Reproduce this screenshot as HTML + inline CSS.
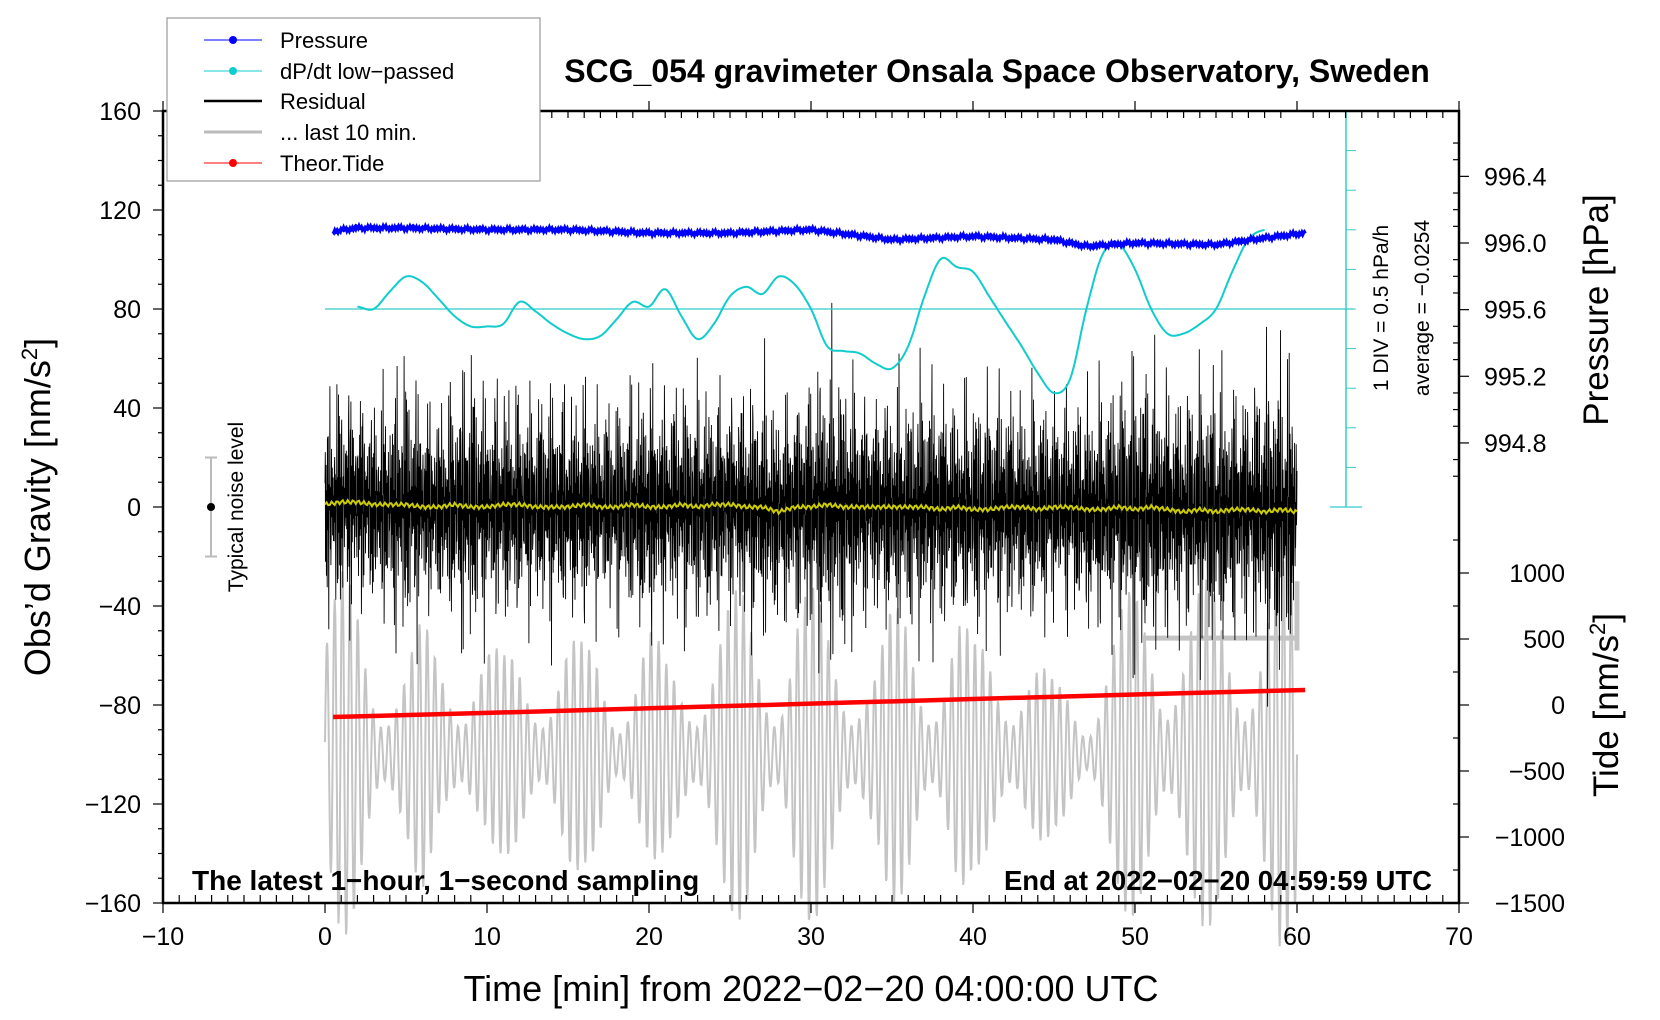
<!DOCTYPE html>
<html><head><meta charset="utf-8"><style>
html,body{margin:0;padding:0;background:#fff;}
svg{display:block;font-family:"Liberation Sans",sans-serif;}
</style></head><body>
<svg id="chart" width="1660" height="1020" viewBox="0 0 1660 1020" xmlns="http://www.w3.org/2000/svg">
<g id="marks"></g>
<g id="axes"></g>
<g id="legend">
  <rect x="167" y="18" width="373" height="163" fill="#fff" stroke="#999" stroke-width="1.2"/>
  <g><line x1="204" y1="40" x2="262" y2="40" stroke="#00f" stroke-width="1"/><circle cx="233" cy="40" r="4" fill="#00f"/><text x="280" y="48" font-size="22">Pressure</text></g>
  <g><line x1="204" y1="71" x2="262" y2="71" stroke="#1cc" stroke-width="1"/><circle cx="233" cy="71" r="4" fill="#1cc"/><text x="280" y="79" font-size="22">dP/dt low−passed</text></g>
  <g><line x1="204" y1="101" x2="262" y2="101" stroke="#000" stroke-width="2.5"/><text x="280" y="109" font-size="22">Residual</text></g>
  <g><line x1="204" y1="132" x2="262" y2="132" stroke="#bbb" stroke-width="3"/><text x="280" y="140" font-size="22">... last 10 min.</text></g>
  <g><line x1="204" y1="163" x2="262" y2="163" stroke="#f00" stroke-width="1"/><circle cx="233" cy="163" r="4" fill="#f00"/><text x="280" y="171" font-size="22">Theor.Tide</text></g>
</g>
<text x="997" y="82" font-size="32" font-weight="bold" text-anchor="middle">SCG_054 gravimeter Onsala Space Observatory, Sweden</text>
<text x="192" y="890" font-size="28" font-weight="bold">The latest 1−hour, 1−second sampling</text>
<text x="1432" y="890" font-size="27.5" font-weight="bold" text-anchor="end">End at 2022−02−20 04:59:59 UTC</text>
<text transform="translate(50,507) rotate(-90)" font-size="36" text-anchor="middle">Obs’d Gravity [nm/s<tspan font-size="22" dy="-13">2</tspan><tspan dy="13">]</tspan></text>
<text transform="translate(1608,310) rotate(-90)" font-size="35" text-anchor="middle">Pressure [hPa]</text>
<text transform="translate(1618,705) rotate(-90)" font-size="35" text-anchor="middle">Tide [nm/s<tspan font-size="22" dy="-13">2</tspan><tspan dy="13">]</tspan></text>
<text x="811" y="1001" font-size="36" text-anchor="middle">Time [min] from 2022−02−20 04:00:00 UTC</text>
<text transform="translate(1388,308) rotate(-90)" font-size="21" text-anchor="middle">1 DIV = 0.5 hPa/h</text>
<text transform="translate(1429,308) rotate(-90)" font-size="21" text-anchor="middle">average = −0.0254</text>
<text transform="translate(243,507) rotate(-90)" font-size="21" text-anchor="middle">Typical noise level</text>
</svg>
<script>
// ---- data ----
const xTicks=[-10,0,10,20,30,40,50,60,70];
const gTicks=[-160,-120,-80,-40,0,40,80,120,160];
const pTicks=[994.8,995.2,995.6,996.0,996.4];
const tTicks=[-1500,-1000,-500,0,500,1000];
const presT=[0.5,2,5,10,15,20,25,30,35,40,45,47,50,55,58,60.5];
const presV=[996.07,996.09,996.09,996.08,996.08,996.06,996.06,996.08,996.02,996.04,996.02,995.98,996.0,995.99,996.03,996.06];
const dpT=[2,3,4,5,6,7,8,9,10,11,12,13,14,15,16,17,18,19,20,21,22,23,24,25,26,27,28,29,30,31,32,33,34,35,36,37,38,39,40,41,42,43,44,45,46,47,48,49,50,51,52,53,54,55,56,57,58];
const dpV=[0.03,0,0.22,0.41,0.34,0.13,-0.09,-0.22,-0.22,-0.19,0.09,-0.03,-0.19,-0.31,-0.38,-0.34,-0.13,0.09,0.03,0.25,-0.09,-0.38,-0.19,0.16,0.28,0.19,0.41,0.31,0,-0.47,-0.53,-0.56,-0.69,-0.75,-0.47,0.16,0.63,0.53,0.47,0.16,-0.16,-0.47,-0.81,-1.06,-0.88,0,0.69,0.81,0.5,0,-0.31,-0.31,-0.19,0,0.47,0.88,1.0];
const dpAvg=-0.0254;
const tideT=[0.5,10,20,30,40,50,60.5];
const tideV=[-91,-60,-25,10,45,80,114];
// residual envelope (nm/s^2) per minute 0..60
const resEnv=[40,50,45,42,48,58,45,42,50,60,45,50,48,45,50,45,50,42,45,48,55,45,50,48,50,45,48,52,45,48,55,62,58,48,45,50,48,55,52,45,50,48,50,45,50,42,45,48,52,50,62,60,52,48,55,58,52,50,60,65,55];
const resMean=[1,2,2,1,1,1,0,0,1,0,0,1,1,0,0,0,1,0,0,1,0,0,1,0,1,1,0,0,-2,0,0,1,0,0,0,0,0,0,-1,0,-1,-1,0,0,-1,0,0,-1,-1,0,-1,0,-1,-2,-1,-2,-1,-1,-2,-1,-2];
// gray "last 10 min" envelope and centre (nm/s^2)
const grayEnv=[60,75,70,55,50,45,55,40,50,60,45,40,50,55,45,50,45,55,40,45,50,40,45,55,60,65,70,60,55,75,70,60,55,60,45,60,65,55,60,65,45,55,60,50,40,30,35,30,50,60,70,75,70,65,70,72,70,65,75,80,70];
const grayMid=[-95,-100,-100,-100,-100,-100,-100,-95,-100,-100,-95,-100,-100,-100,-100,-100,-100,-100,-100,-100,-95,-100,-100,-100,-100,-100,-100,-100,-100,-100,-100,-100,-100,-100,-100,-100,-100,-100,-100,-100,-100,-100,-100,-100,-100,-100,-100,-100,-100,-100,-100,-100,-100,-100,-100,-100,-100,-100,-100,-100,-100];

// ---- axes functions ----
const X=t=>163+(t+10)*16.2;
const Y=g=>111+(160-g)*2.475;
const YP=p=>243-(p-996)*166.6;
const YT=v=>705-v*0.132;
const NS='http://www.w3.org/2000/svg';
const marks=document.getElementById('marks'),axes=document.getElementById('axes');
function mk(tag,attrs,parent){const e=document.createElementNS(NS,tag);for(const k in attrs)e.setAttribute(k,attrs[k]);parent.appendChild(e);return e;}
function interp(ts,vs,t){if(t<=ts[0])return vs[0];for(let i=1;i<ts.length;i++){if(t<=ts[i]){const f=(t-ts[i-1])/(ts[i]-ts[i-1]);return vs[i-1]+f*(vs[i]-vs[i-1]);}}return vs[vs.length-1];}
function spline(ts,vs,t){if(t<=ts[0])return vs[0];const n=ts.length;if(t>=ts[n-1])return vs[n-1];let i=1;while(ts[i]<t)i++;
 const p0=vs[Math.max(i-2,0)],p1=vs[i-1],p2=vs[i],p3=vs[Math.min(i+1,n-1)];const u=(t-ts[i-1])/(ts[i]-ts[i-1]);
 return 0.5*((2*p1)+(-p0+p2)*u+(2*p0-5*p1+4*p2-p3)*u*u+(-p0+3*p1-3*p2+p3)*u*u*u);}
const idx=resEnv.map((_,k)=>k);

// gray line
let gp=[];
for(let i=0;i<=1800;i++){const t=i/30;const env=interp(idx,grayEnv,t);const mid=interp(idx,grayMid,t);
 const v=mid+env*Math.sin(t*2*Math.PI*2.1)*(0.6+0.4*Math.sin(t*1.3));gp.push(X(t).toFixed(1)+','+Y(v).toFixed(1));}
const gray=mk('polyline',{points:gp.join(' '),fill:'none',stroke:'#c4c4c4','stroke-width':2},marks);


const gb=mk('path',{d:`M${X(50.5)},${Y(-53)}H${X(60)}M${X(60)},${Y(-30)}V${Y(-58)}`,stroke:'#c4c4c4','stroke-width':5,fill:'none'},marks);



// residual
let rp=[];
for(let i=0;i<=3600;i++){const t=i/60;const env=interp(idx,resEnv,t);
 const w=Math.sin(i*2.17)*0.6+Math.sin(i*0.73+1)*0.3+Math.sin(i*5.3)*0.25;
 rp.push(X(t).toFixed(1)+','+Y(interp(idx,resMean,t)+env*w*(0.85+0.35*Math.sin(t*9.1))).toFixed(1));}
const res=mk('polyline',{points:rp.join(' '),fill:'none',stroke:'#000','stroke-width':0.9},marks);


let yp=[];
for(let i=0;i<=600;i++){const t=i/10;yp.push(X(t).toFixed(1)+','+Y(interp(idx,resMean,t)+0.8*Math.sin(i*1.9)).toFixed(1));}
const yl=mk('polyline',{points:yp.join(' '),fill:'none',stroke:'#cc0','stroke-width':2},marks);



// red tide
const tl=mk('polyline',{points:tideT.map((t,i)=>X(t)+','+YT(tideV[i])).join(' '),fill:'none',stroke:'#f00','stroke-width':4.5},marks);



// cyan baseline and dp/dt
const cb=mk('line',{x1:X(0),x2:X(63.5),y1:Y(80),y2:Y(80),stroke:'#3cc','stroke-width':1.3},marks);


let cp=[];
for(let i=0;i<=560;i++){const t=2+i/10;cp.push(X(t).toFixed(1)+','+Y(80+spline(dpT,dpV,t)*32).toFixed(1));}
const cl=mk('polyline',{points:cp.join(' '),fill:'none',stroke:'#1cc','stroke-width':2},marks);


// scale bar
const sb=mk('g',{},marks);


mk('line',{x1:1346,x2:1346,y1:Y(160),y2:Y(0),stroke:'#3cc','stroke-width':1.5},sb);
for(let k=0;k<=10;k++){const y=Y(160-16*k);mk('line',{x1:1346,x2:(k==0||k==10)?1362:1356,y1:y,y2:y,stroke:'#3cc','stroke-width':1},sb);if(k==0||k==10)mk('line',{x1:1330,x2:1362,y1:y,y2:y,stroke:'#3cc','stroke-width':1.2},sb);}

// pressure
let pp=[];
for(let i=0;i<=1200;i++){const t=0.5+i/20;pp.push(X(t).toFixed(1)+','+(YP(interp(presT,presV,t))+1.2*Math.sin(i*2.3)+0.8*Math.sin(i*0.37)).toFixed(1));}
const pl=mk('polyline',{points:pp.join(' '),fill:'none',stroke:'#00f','stroke-width':3.5},marks);



// noise bar
const nb=mk('g',{},marks);


mk('path',{d:`M211,${Y(20)}V${Y(-20)}M205,${Y(20)}H217M205,${Y(-20)}H217`,stroke:'#bbb','stroke-width':2,fill:'none'},nb);
mk('circle',{cx:211,cy:Y(0),r:4,fill:'#000'},nb);

// frame
const fr=mk('rect',{x:163,y:111,width:1296,height:792,fill:'none',stroke:'#000','stroke-width':2.5},axes);


const xa=mk('g',{},axes);
for(let t=-10;t<=70;t++){const x=X(t);const maj=t%10==0;
 mk('line',{x1:x,x2:x,y1:903,y2:maj?913:895,stroke:'#000','stroke-width':1.2},xa);
 mk('line',{x1:x,x2:x,y1:111,y2:maj?101:118,stroke:'#000','stroke-width':1.2},xa);}
xTicks.forEach(t=>{const e=mk('text',{x:X(t),y:945,'font-size':25,'text-anchor':'middle'},xa);e.textContent=String(t).replace('-','−');});
const ya=mk('g',{},axes);
for(let g=-160;g<=160;g+=10){const y=Y(g);const maj=g%40==0;mk('line',{x1:163,x2:maj?153:158,y1:y,y2:y,stroke:'#000','stroke-width':1.2},ya);}
gTicks.forEach(g=>{const e=mk('text',{x:141,y:Y(g)+9,'font-size':25,'text-anchor':'end'},ya);e.textContent=String(g).replace('-','−');});
const pa=mk('g',{},axes);
for(let p=994.6;p<=996.61;p+=0.1){const y=YP(p);if(y<111||y>520)continue;const maj=Math.abs(Math.round(p*10)%4)==0;mk('line',{x1:1459,x2:maj?1469:1453,y1:y,y2:y,stroke:'#000','stroke-width':1.2},pa);}
pTicks.forEach(p=>{const e=mk('text',{x:1484,y:YP(p)+9,'font-size':25},pa);e.textContent=p.toFixed(1);});
const ta=mk('g',{},axes);
for(let v=-1500;v<=1250;v+=250){const y=YT(v);const maj=v%500==0;mk('line',{x1:1459,x2:maj?1469:1453,y1:y,y2:y,stroke:'#000','stroke-width':1.2},ta);}
tTicks.forEach(v=>{const e=mk('text',{x:1565,y:YT(v)+9,'font-size':25,'text-anchor':'end'},ta);e.textContent=String(v).replace('-','−');});
</script>
</body></html>
